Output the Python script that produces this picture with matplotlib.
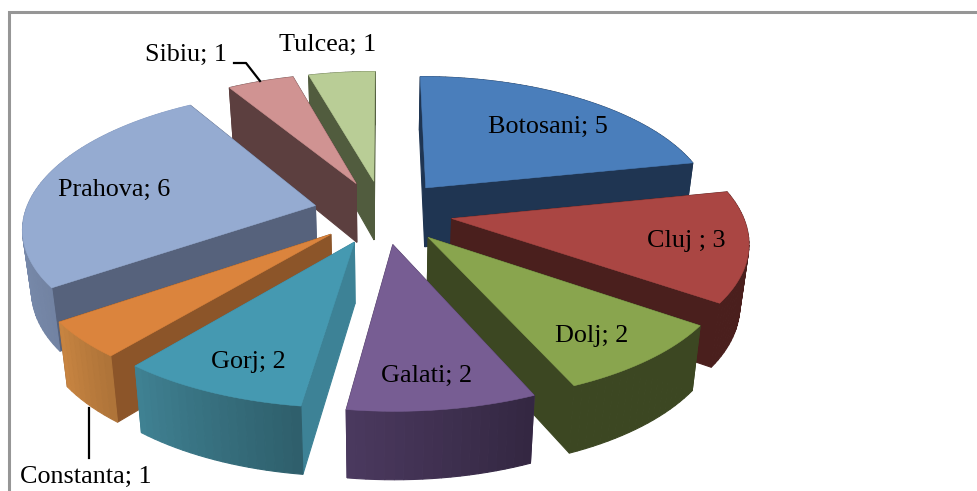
import numpy as np
import matplotlib
matplotlib.use("Agg")
import matplotlib.pyplot as plt
from matplotlib.colors import to_rgb

# data
counties = ["Botosani", "Cluj", "Dolj", "Galati", "Gorj", "Constanta", "Prahova", "Sibiu", "Tulcea"]
values = [5, 3, 2, 2, 2, 1, 6, 1, 1]
labels = ["Botosani; 5", "Cluj ; 3", "Dolj; 2", "Galati; 2", "Gorj; 2", "Constanta; 1", "Prahova; 6", "Sibiu; 1", "Tulcea; 1"]

top_colors = ["#4A7EBB", "#AA4643", "#89A54E", "#775D93", "#4599B1", "#DB843D", "#95ABD1", "#D09392", "#B9CD96"]
wall_colors = ["#1F3552", "#4A1F1D", "#3C4722", "#4B3A5E", "#3D8296", "#8C5529", "#56627C", "#5C3F3F", "#515C3E"]
rim_colors = ["#1F3552", "#4A1F1D", "#3C4722", "#3F3050", "#37707F", "#B87A3C", "#7F92B5", "#5C3F3F", "#515C3E"]
# rim shading from one end of a slice to the other
rim_shade = [(1, 1), (1, 1), (1, 1), (0.82, 1.18), (0.85, 1.15), (0.95, 1.08), (0.9, 1.1), (1, 1), (1, 1)]

# label centres in pixels
label_xy = [(548, 127), (686, 241), (592, 336), (427, 376), (248, 362), (86, 477), (114, 190), (186, 55), (328, 45)]

# pie geometry in pixels
cx, cy = 383, 212
R = 290
tilt = 0.459
persp_x = 0.15
persp_y = 0.14
persp_z = 0.10
explode = 0.24
depth = 60
converge = 0.025

W, H = 977, 491
fig = plt.figure(figsize=(W / 100, H / 100), dpi=100)
ax = fig.add_axes([0, 0, 1, 1])
ax.set_xlim(0, W)
ax.set_ylim(H, 0)
ax.axis("off")


def project(x, y, z=0.0):
    # x to the right, y into the screen, z downwards, unit radius
    sx = 1 / (1 + persp_x * y)
    sy = 1 / (1 + persp_y * y)
    sz = 1 / (1 + persp_z * y)
    # the bottom of the slice pulls in a little towards the middle
    return cx + R * x * sx * (1 - converge * z), cy - R * tilt * y * sy + z * depth * sz


def wedge_faces(a0, a1):
    mid = (a0 + a1) / 2
    ox, oy = explode * np.sin(mid), explode * np.cos(mid)
    t = np.linspace(a0, a1, max(int((a1 - a0) * 40), 4))
    xs = ox + np.sin(t)
    ys = oy + np.cos(t)
    return ox, oy, xs, ys


def shade(c, f):
    return tuple(min(1, v * f) for v in to_rgb(c))


cum = np.cumsum([0] + values)
angles = cum / cum[-1] * 2 * np.pi
mids = (angles[:-1] + angles[1:]) / 2
order = np.argsort(-np.cos(mids))

for n, i in enumerate(order):
    a0, a1 = angles[i], angles[i + 1]
    ox, oy, xs, ys = wedge_faces(a0, a1)
    zo = 2 + n
    faces = []
    # radial walls
    for xe, ye in [(xs[0], ys[0]), (xs[-1], ys[-1])]:
        px, py = zip(project(ox, oy), project(xe, ye), project(xe, ye, 1), project(ox, oy, 1))
        faces.append(((oy + ye) / 2, px, py, wall_colors[i]))
    # outer rim, small quads so the shading can change along it
    f0, f1 = rim_shade[i]
    for k in range(len(xs) - 1):
        q = [project(xs[k], ys[k]), project(xs[k + 1], ys[k + 1]),
             project(xs[k + 1], ys[k + 1], 1), project(xs[k], ys[k], 1)]
        px, py = zip(*q)
        f = f0 + (f1 - f0) * k / (len(xs) - 2)
        faces.append(((ys[k] + ys[k + 1]) / 2, px, py, shade(rim_colors[i], f)))
    faces.sort(key=lambda v: -v[0])
    for _, px, py, col in faces:
        ax.fill(px, py, color=col, lw=0.8, zorder=zo)
    # top face
    tx, ty = project(np.r_[ox, xs], np.r_[oy, ys])
    ax.fill(tx, ty, color=top_colors[i], lw=0.4, zorder=zo + 0.5)

for lab, (x, y) in zip(labels, label_xy):
    ax.text(x, y, lab, ha="center", va="center", family="Liberation Serif", fontsize=18.8, color="black", zorder=50)

# leader lines for the two outside labels
ax.plot([88.5, 88.5], [408, 458], color="black", lw=1.6, zorder=40)
ax.plot([234, 246, 260], [63, 63, 81], color="black", lw=1.6, zorder=40)

# chart frame, only top and left fall inside the crop
ax.plot([9, 9, W], [H, 11.5, 11.5], color="#969696", lw=2.2, zorder=1, solid_joinstyle="miter")

fig.savefig("out.png", dpi=100)
